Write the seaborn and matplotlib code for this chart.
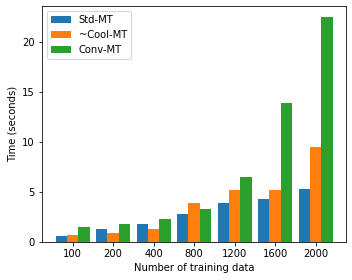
import matplotlib
matplotlib.use("Agg")
import matplotlib.pyplot as plt
import seaborn as sns
import pandas as pd

sizes = ["100", "200", "400", "800", "1200", "1600", "2000"]
std_mt = [0.56, 1.33, 1.83, 2.82, 3.92, 4.32, 5.32]
cool_mt = [0.73, 0.93, 1.26, 3.92, 5.22, 5.22, 9.5]
conv_mt = [1.53, 1.83, 2.33, 3.26, 6.5, 13.85, 22.45]
methods = ["Std-MT", "~Cool-MT", "Conv-MT"]
colors = ["#1f77b4", "#ff7f0e", "#2ca02c"]

rows = []
for name, vals in zip(methods, [std_mt, cool_mt, conv_mt]):
    for s, v in zip(sizes, vals):
        rows.append({"size": s, "time": v, "method": name})
df = pd.DataFrame(rows)

plt.rcParams["font.family"] = ["DejaVu Sans"]
fig, ax = plt.subplots(figsize=(352 / 72, 280 / 72), dpi=72)
sns.barplot(data=df, x="size", y="time", hue="method", order=sizes,
            hue_order=methods, palette=colors, saturation=1, linewidth=0,
            width=0.84, ax=ax)
ax.set_xlim(-0.762, 6.762)
ax.set_ylim(0, 23.57)
ax.set_xlabel("Number of training data")
ax.set_ylabel("Time (seconds)")
ax.legend(loc="upper left", title=None)
fig.subplots_adjust(left=0.1185, right=0.984, bottom=0.136, top=0.979)
fig.savefig("out.png", dpi=72)
